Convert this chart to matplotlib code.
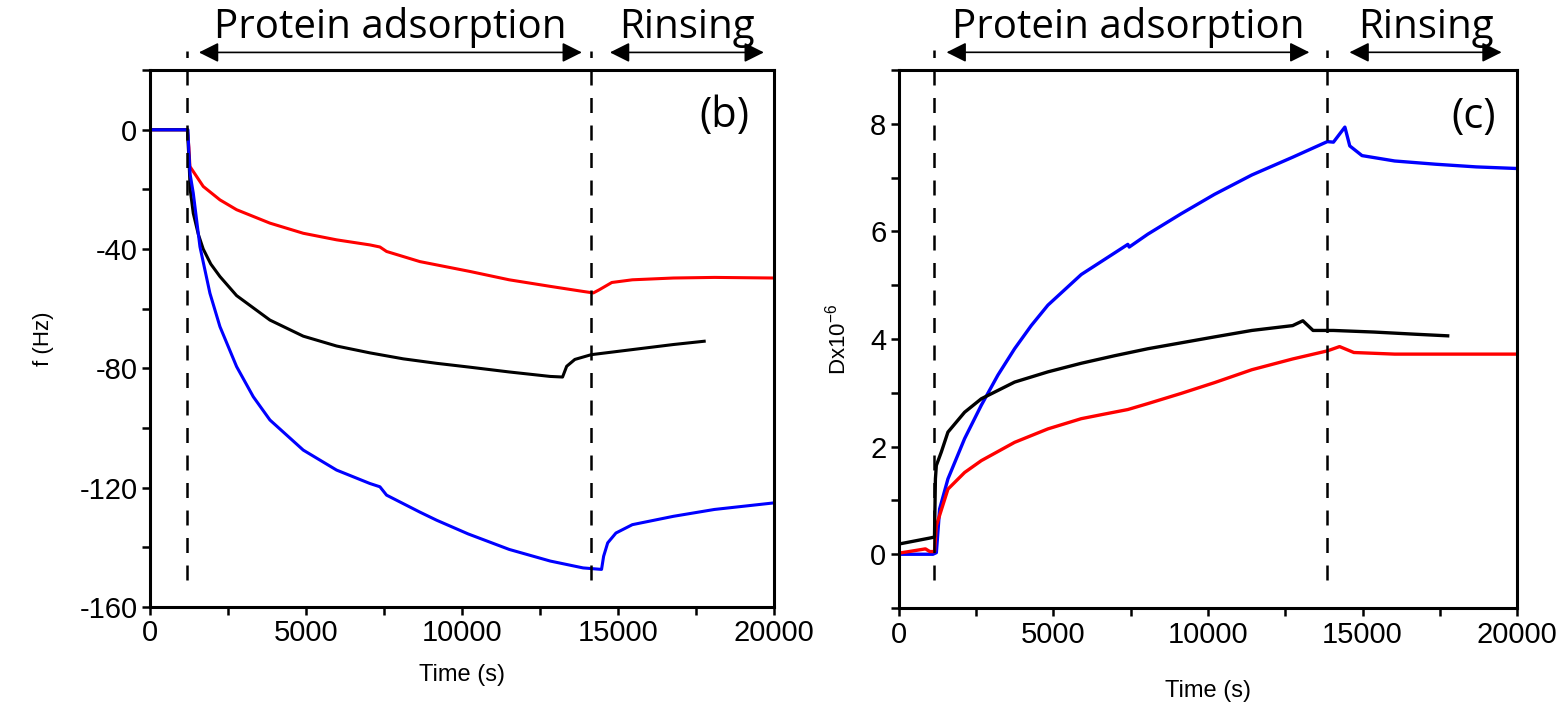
import matplotlib.pyplot as plt
from matplotlib.ticker import MultipleLocator

plt.rcParams['font.family'] = ['Liberation Sans', 'DejaVu Sans']
plt.rcParams['mathtext.fontset'] = 'custom'
plt.rcParams['mathtext.rm'] = 'Liberation Sans'
plt.rcParams['mathtext.default'] = 'regular'
plt.rcParams['axes.unicode_minus'] = False

# (b) frequency shift, f (Hz)
red_t = [0, 1200, 1250, 1282, 1709, 2244, 2778, 3846, 4915, 5983, 7051, 7372, 7585,
         8654, 10256, 11515, 12831, 13884, 14213, 14410, 14805, 15463, 16779, 18095, 20000]
red_f = [0, 0, -6, -12.3, -19, -23.5, -26.8, -31.3, -34.7, -36.9, -38.6, -39.3, -40.8,
         -44.2, -47.5, -50.3, -52.5, -54.2, -54.7, -53.6, -51.2, -50.3, -49.7, -49.5, -49.7]

black_t = [0, 1200, 1250, 1290, 1389, 1550, 1709, 1950, 2244, 2778, 3846, 4915, 5983,
           7051, 8120, 9188, 10256, 11515, 12831, 13226, 13358, 13620, 14147, 15463,
           16779, 17766]
black_f = [0, 0, -10, -20, -28, -35, -40, -45, -49.2, -55.6, -63.8, -69.2, -72.5,
           -74.8, -76.8, -78.3, -79.6, -81.2, -82.7, -82.9, -79.3, -77, -75.4, -73.7,
           -72, -70.9]

blue_t = [0, 1220, 1250, 1290, 1389, 1603, 1923, 2244, 2778, 3312, 3846, 4915, 5983,
          7051, 7372, 7585, 8654, 9188, 10199, 11515, 12831, 13884, 14476, 14542,
          14673, 14937, 15463, 16779, 18095, 20000]
blue_f = [0, 0, -8, -15, -21.2, -39.2, -54.8, -66, -79.4, -89.5, -97.3, -107.4, -114.1,
          -118.6, -119.7, -122.5, -128.2, -130.9, -135.5, -140.7, -144.6, -146.9, -147.4,
          -143, -138.5, -135.2, -132.4, -129.6, -127.3, -125.1]

# (c) dissipation, D x 1e-6
red_dt = [0, 858, 1000, 1150, 1210, 1585, 2125, 2665, 3742, 4819, 5899, 6600, 7406,
          8053, 9133, 10210, 11418, 12738, 13860, 14256, 14718, 16038, 20000]
red_d = [0.02, 0.1, 0.05, 0.05, 0.53, 1.21, 1.52, 1.74, 2.08, 2.33, 2.52, 2.6, 2.69,
         2.8, 2.99, 3.19, 3.43, 3.63, 3.78, 3.86, 3.75, 3.72, 3.72]

black_dt = [0, 990, 1150, 1180, 1210, 1371, 1585, 2125, 2665, 3742, 4819, 5899, 6976,
            8053, 10210, 11418, 12738, 13068, 13398, 14058, 15378, 16698, 17754]
black_d = [0.19, 0.3, 0.32, 1.4, 1.65, 1.90, 2.27, 2.64, 2.89, 3.20, 3.39, 3.55, 3.69,
           3.82, 4.04, 4.16, 4.25, 4.34, 4.16, 4.16, 4.13, 4.09, 4.06]

blue_dt = [0, 1100, 1210, 1316, 1585, 2125, 2665, 3202, 3742, 4280, 4819, 5899, 6976,
           7406, 7450, 8053, 9133, 10210, 11418, 12738, 13860, 14058, 14256, 14428,
           14586, 14982, 16038, 17358, 18678, 20000]
blue_d = [0, 0, 0.03, 0.84, 1.40, 2.15, 2.77, 3.33, 3.82, 4.25, 4.63, 5.2, 5.6,
          5.76, 5.71, 5.95, 6.33, 6.69, 7.05, 7.38, 7.67, 7.66, 7.81, 7.94, 7.59,
          7.41, 7.31, 7.25, 7.2, 7.17]

# phase boundaries (s)
b_lines = [1200, 14150]
c_lines = [1120, 13850]

fig = plt.figure(figsize=(15.65, 7.12), dpi=100)
axb = fig.add_axes([0.0958, 0.1475, 0.3987, 0.754])
axc = fig.add_axes([0.5744, 0.146, 0.395, 0.7556])

axb.plot(red_t, red_f, color='#ff0000', lw=2.2)
axb.plot(black_t, black_f, color='black', lw=2.2)
axb.plot(blue_t, blue_f, color='#0000ff', lw=2.2)

axc.plot(blue_dt, blue_d, color='#0000ff', lw=2.4)
axc.plot(red_dt, red_d, color='#ff0000', lw=2.4)
axc.plot(black_dt, black_d, color='black', lw=2.4)

axb.set_xlim(0, 20000)
axb.set_ylim(-160, 20)
axb.set_yticks([-160, -120, -80, -40, 0])
axb.yaxis.set_minor_locator(MultipleLocator(20))
axc.set_xlim(0, 20000)
axc.set_ylim(-1, 9)
axc.set_yticks([0, 2, 4, 6, 8])
axc.yaxis.set_minor_locator(MultipleLocator(1))

for ax, lines, ytop, ybot in [(axb, b_lines, 26.5, -151), (axc, c_lines, 9.37, -0.47)]:
    ax.set_xticks([0, 5000, 10000, 15000, 20000])
    ax.xaxis.set_minor_locator(MultipleLocator(2500))
    ax.tick_params(which='both', direction='out', length=6, width=1.8,
                   labelsize=21, pad=3)
    for s in ax.spines.values():
        s.set_linewidth(2.2)
    for x in lines:
        ax.plot([x, x], [ybot, ytop], color='black', lw=1.8,
                dashes=(6, 5), clip_on=False)
    ax.set_xlabel('Time (s)', fontsize=17)

axb.xaxis.labelpad = 12
axc.xaxis.labelpad = 23
axb.set_ylabel('f (Hz)', fontsize=16, labelpad=18)
axc.set_ylabel(r'Dx10$^{-6}$', fontsize=16, labelpad=14)

axb.text(0.92, 0.915, '(b)', transform=axb.transAxes, fontsize=30,
         family='Open Sans', ha='center', va='center')
axc.text(0.929, 0.913, '(c)', transform=axc.transAxes, fontsize=30,
         family='Open Sans', ha='center', va='center')

# phase annotations above the panels
arrows = [
    (axb, 1570, 13846, 'Protein adsorption'),
    (axb, 14744, 19679, 'Rinsing'),
    (axc, 1540, 13280, 'Protein adsorption'),
    (axc, 14576, 19500, 'Rinsing'),
]
for ax, x0, x1, label in arrows:
    tr = ax.get_xaxis_transform()
    ax.annotate('', xy=(x1, 1.033), xytext=(x0, 1.033), xycoords=tr, textcoords=tr,
                arrowprops=dict(arrowstyle='<|-|>', mutation_scale=30, lw=1.2,
                                color='black', shrinkA=0, shrinkB=0),
                annotation_clip=False)
    ax.text((x0 + x1) / 2, 1.06, label, transform=tr, fontsize=29,
            family='Open Sans', ha='center', va='baseline', color='black')

fig.savefig('out.png', dpi=100, facecolor='white')
